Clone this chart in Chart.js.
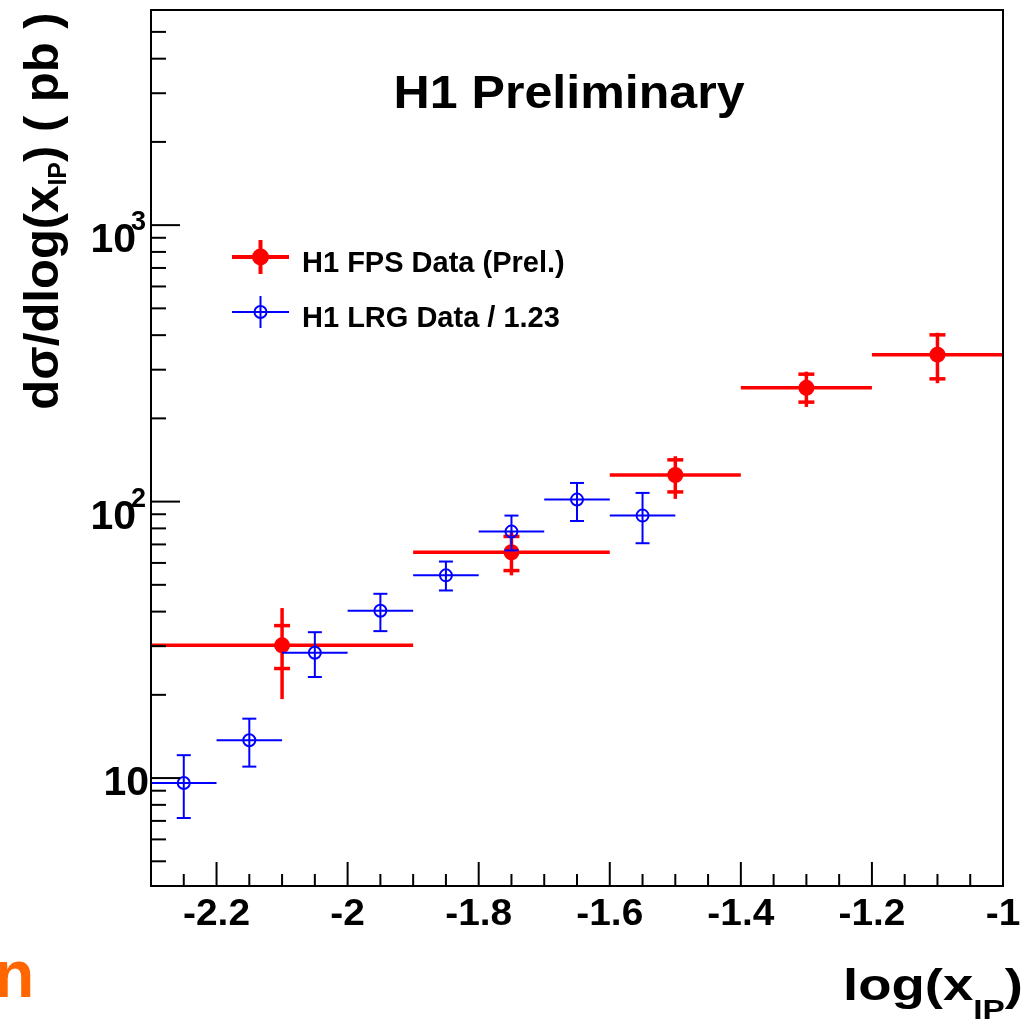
<!DOCTYPE html>
<html>
<head>
<meta charset="utf-8">
<title>H1 Preliminary - dsigma/dlog(x_IP)</title>
<script src="https://cdn.jsdelivr.net/npm/chart.js@4.4.0/dist/chart.umd.min.js"></script>
<style>
  html, body { margin: 0; padding: 0; background: #fff; }
  canvas { display: block; }
</style>
</head>
<body>
<canvas id="chartXpom" width="1031" height="1026"></canvas>
<script>
// H1 FPS data (red), bins in log(x_IP)
var fpsX = [-2.1, -1.75, -1.5, -1.3, -1.1];
var fpsBinLo = [-2.3, -1.9, -1.6, -1.4, -1.2];
var fpsBinHi = [-1.9, -1.6, -1.4, -1.2, -1.0];
var fpsY = [30.2, 65.6, 124.8, 258, 340];
var fpsStatLo = [24.9, 56.3, 108.4, 229, 278];
var fpsStatHi = [35.6, 74.8, 141.6, 289, 401];
var fpsTotLo = [19.3, 54.1, 102.3, 220, 268];
var fpsTotHi = [41.2, 77.5, 145.9, 295, 408];

// H1 LRG data / 1.23 (blue)
var lrgX = [-2.25, -2.15, -2.05, -1.95, -1.85, -1.75, -1.65, -1.55];
var lrgY = [9.6, 13.7, 28.4, 40.3, 54.1, 77.9, 101.7, 89.0];
var lrgLo = [7.17, 11.0, 23.2, 34.0, 47.7, 66.6, 85.1, 70.7];
var lrgHi = [12.1, 16.4, 33.7, 46.4, 60.7, 89.0, 116.8, 107.5];
var lrgHalfBin = 0.05;

// axes
var xMin = -2.3, xMax = -1.0;
var yMin = 4.07, yMax = 6000;
var xTicks = [-2.2, -2, -1.8, -1.6, -1.4, -1.2, -1];
var xTickLabels = ['-2.2', '-2', '-1.8', '-1.6', '-1.4', '-1.2', '-1'];
var yTicks = [10, 100, 1000];
var yTickExp = ['', '2', '3'];

var legendLabels = ['H1 FPS Data (Prel.)', 'H1 LRG Data / 1.23'];
var FONT = '"Liberation Sans", Arial, Helvetica, sans-serif';
var RED = '#ff0000';
var BLUE = '#0000ff';

function line(ctx, x1, y1, x2, y2) {
  ctx.beginPath();
  ctx.moveTo(x1, y1);
  ctx.lineTo(x2, y2);
  ctx.stroke();
}

// text with a horizontal stretch, anchored at left x
function stretchText(ctx, txt, x, y, sx) {
  ctx.save();
  ctx.translate(x, y);
  ctx.scale(sx, 1);
  ctx.fillText(txt, 0, 0);
  ctx.restore();
}

var whiteBg = {
  id: 'whiteBg',
  beforeDraw: function (chart) {
    var ctx = chart.ctx;
    ctx.save();
    ctx.fillStyle = '#fff';
    ctx.fillRect(0, 0, chart.width, chart.height);
    ctx.restore();
  }
};

var errorBars = {
  id: 'errorBars',
  beforeDatasetsDraw: function (chart) {
    var ctx = chart.ctx, xs = chart.scales.x, ys = chart.scales.y;
    ctx.save();
    ctx.strokeStyle = RED;
    ctx.lineWidth = 3.5;
    for (var i = 0; i < fpsX.length; i++) {
      var px = xs.getPixelForValue(fpsX[i]);
      var py = ys.getPixelForValue(fpsY[i]);
      line(ctx, xs.getPixelForValue(fpsBinLo[i]), py, xs.getPixelForValue(fpsBinHi[i]), py);
      line(ctx, px, ys.getPixelForValue(fpsTotLo[i]), px, ys.getPixelForValue(fpsTotHi[i]));
      var sl = ys.getPixelForValue(fpsStatLo[i]);
      var sh = ys.getPixelForValue(fpsStatHi[i]);
      line(ctx, px - 8, sl, px + 8, sl);
      line(ctx, px - 8, sh, px + 8, sh);
    }
    ctx.restore();
  },
  afterDatasetsDraw: function (chart) {
    var ctx = chart.ctx, xs = chart.scales.x, ys = chart.scales.y;
    ctx.save();
    ctx.strokeStyle = BLUE;
    ctx.lineWidth = 2;
    for (var i = 0; i < lrgX.length; i++) {
      var px = xs.getPixelForValue(lrgX[i]);
      var py = ys.getPixelForValue(lrgY[i]);
      line(ctx, xs.getPixelForValue(lrgX[i] - lrgHalfBin), py, xs.getPixelForValue(lrgX[i] + lrgHalfBin), py);
      var lo = ys.getPixelForValue(lrgLo[i]);
      var hi = ys.getPixelForValue(lrgHi[i]);
      line(ctx, px, lo, px, hi);
      line(ctx, px - 7, lo, px + 7, lo);
      line(ctx, px - 7, hi, px + 7, hi);
    }
    ctx.restore();
  }
};

var frameAndText = {
  id: 'frameAndText',
  afterDraw: function (chart) {
    var ctx = chart.ctx, a = chart.chartArea;
    var xs = chart.scales.x, ys = chart.scales.y;
    ctx.save();

    // frame
    ctx.strokeStyle = '#000';
    ctx.lineWidth = 2;
    ctx.strokeRect(a.left, a.top, a.right - a.left, a.bottom - a.top);

    // x ticks (inside, from bottom)
    for (var v = xMin; v <= xMax + 1e-6; v += 0.05) {
      var r = Math.round(v * 100) / 100;
      var major = Math.abs(Math.round(r * 5) - r * 5) < 1e-6;
      var px = xs.getPixelForValue(r);
      line(ctx, px, a.bottom, px, a.bottom - (major ? 24 : 12));
    }
    // y ticks (inside, from left)
    for (var d = 1; d <= 1000; d *= 10) {
      for (var k = 1; k <= 9; k++) {
        var val = d * k;
        if (val < yMin || val > yMax) continue;
        var py = ys.getPixelForValue(val);
        line(ctx, a.left, py, a.left + (k === 1 ? 29 : 15), py);
      }
    }

    ctx.fillStyle = '#000';
    // x tick labels
    ctx.font = 'bold 37px ' + FONT;
    ctx.textBaseline = 'alphabetic';
    for (var i = 0; i < xTicks.length; i++) {
      var w = ctx.measureText(xTickLabels[i]).width * 1.05;
      stretchText(ctx, xTickLabels[i], xs.getPixelForValue(xTicks[i]) - w / 2, 925, 1.05);
    }
    // y tick labels
    for (var j = 0; j < yTicks.length; j++) {
      var ty = ys.getPixelForValue(yTicks[j]);
      ctx.font = 'bold 41px ' + FONT;
      if (yTickExp[j] === '') {
        ctx.textAlign = 'right';
        ctx.fillText('10', 149, ty + 17);
      } else {
        ctx.textAlign = 'right';
        ctx.fillText('10', 136, ty + 27);
        ctx.textAlign = 'left';
        ctx.font = 'bold 27px ' + FONT;
        ctx.fillText(yTickExp[j], 131, ty + 5);
      }
    }
    ctx.textAlign = 'left';

    // title
    ctx.font = 'bold 46px ' + FONT;
    var tw = ctx.measureText('H1 Preliminary').width * 1.09;
    stretchText(ctx, 'H1 Preliminary', 569 - tw / 2, 108, 1.09);

    // x axis title: log(x_IP), right aligned
    var big = 'bold 44px ' + FONT, small = 'bold 27px ' + FONT;
    ctx.font = big;
    var w1 = ctx.measureText('log(x').width, w3 = ctx.measureText(')').width;
    ctx.font = small;
    var w2 = ctx.measureText('IP').width;
    var sx = 180 / (w1 + w2 + w3);
    ctx.save();
    ctx.translate(1023 - 180, 1000);
    ctx.scale(sx, 1);
    ctx.font = big;
    ctx.fillText('log(x', 0, 0);
    ctx.font = small;
    ctx.fillText('IP', w1, 19);
    ctx.font = big;
    ctx.fillText(')', w1 + w2, 0);
    ctx.restore();

    // y axis title: dσ/dlog(x_IP) ( pb ), rotated
    var yb = 'bold 49px ' + FONT, ysml = 'bold 25px ' + FONT;
    var p1 = 'd\u03c3/dlog(x', p2 = 'IP', p3 = ') ( pb )';
    ctx.font = yb;
    var l1 = ctx.measureText(p1).width, l3 = ctx.measureText(p3).width;
    ctx.font = ysml;
    var l2 = ctx.measureText(p2).width;
    var tot = l1 + l2 + l3;
    ctx.save();
    ctx.translate(58, 211);
    ctx.rotate(-Math.PI / 2);
    ctx.font = yb;
    ctx.fillText(p1, -tot / 2, 0);
    ctx.font = ysml;
    ctx.fillText(p2, -tot / 2 + l1, 8);
    ctx.font = yb;
    ctx.fillText(p3, -tot / 2 + l1 + l2, 0);
    ctx.restore();

    // legend
    ctx.strokeStyle = RED;
    ctx.fillStyle = RED;
    ctx.lineWidth = 4;
    line(ctx, 232, 257, 289, 257);
    line(ctx, 260.5, 240, 260.5, 274);
    ctx.beginPath();
    ctx.arc(260.5, 257, 8.5, 0, Math.PI * 2);
    ctx.fill();
    ctx.strokeStyle = BLUE;
    ctx.lineWidth = 2;
    line(ctx, 232, 312, 289, 312);
    line(ctx, 260.5, 296, 260.5, 328);
    ctx.beginPath();
    ctx.arc(260.5, 312, 6, 0, Math.PI * 2);
    ctx.stroke();
    ctx.fillStyle = '#000';
    ctx.font = 'bold 29px ' + FONT;
    ctx.fillText(legendLabels[0], 302, 272);
    ctx.fillText(legendLabels[1], 302, 327);

    // orange fragment at bottom-left
    ctx.fillStyle = '#ff6600';
    ctx.font = 'bold 66px ' + FONT;
    ctx.fillText('n', -6, 997);

    ctx.restore();
  }
};

new Chart(document.getElementById('chartXpom'), {
  type: 'scatter',
  data: {
    datasets: [
      {
        label: legendLabels[1],
        data: lrgX.map(function (x, i) { return { x: x, y: lrgY[i] }; }),
        pointRadius: 6,
        pointBorderWidth: 2,
        pointBorderColor: BLUE,
        pointBackgroundColor: 'rgba(0,0,0,0)',
        showLine: false
      },
      {
        label: legendLabels[0],
        data: fpsX.map(function (x, i) { return { x: x, y: fpsY[i] }; }),
        pointRadius: 8,
        pointBorderWidth: 0,
        pointBackgroundColor: RED,
        showLine: false
      }
    ]
  },
  options: {
    responsive: false,
    animation: false,
    devicePixelRatio: 1,
    events: [],
    layout: { padding: { left: 151, right: 28, top: 10, bottom: 140 } },
    scales: {
      x: { type: 'linear', min: xMin, max: xMax, display: false },
      y: { type: 'logarithmic', min: yMin, max: yMax, display: false }
    },
    plugins: {
      legend: { display: false },
      tooltip: { enabled: false },
      title: { display: false }
    }
  },
  plugins: [whiteBg, errorBars, frameAndText]
});
</script>
</body>
</html>
